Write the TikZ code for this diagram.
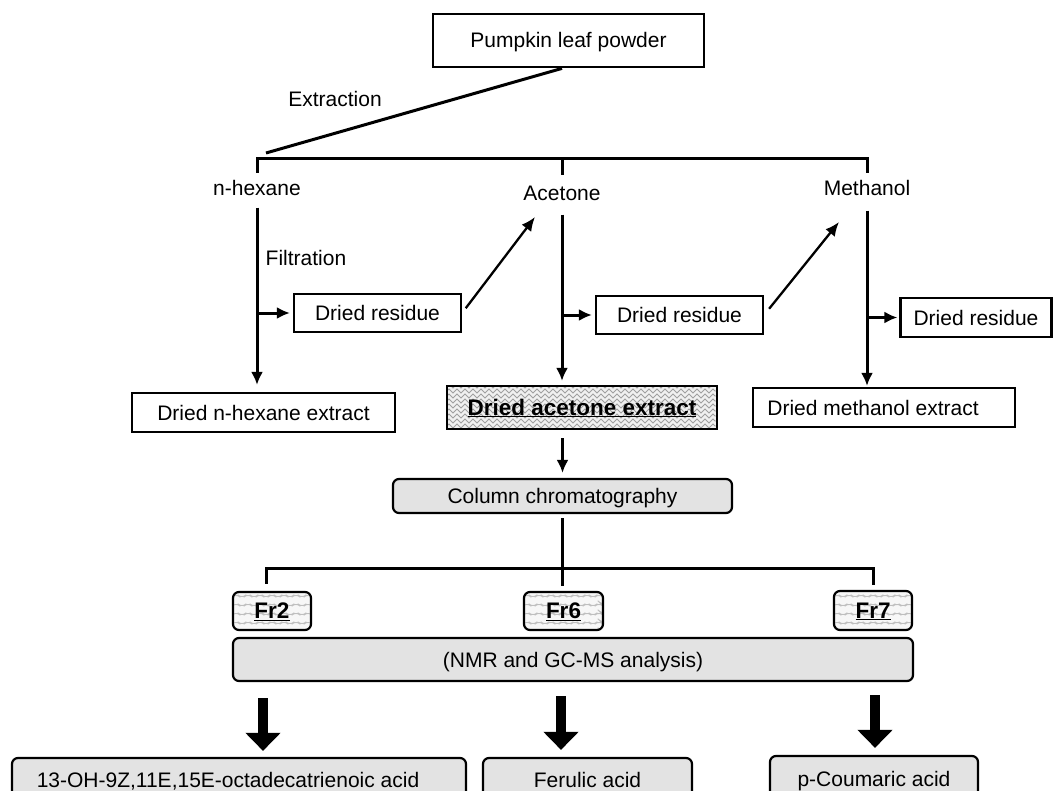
\documentclass[tikz,border=0pt]{standalone}
\usepackage{fontspec}
\setmainfont{Liberation Sans}
\usetikzlibrary{arrows.meta,decorations.pathmorphing}
\tikzset{
  wavy/.style={draw, line width=2.2pt, fill=gray!12, path picture={
    \foreach \k in {-2,3,...,50}
      \draw[gray!75, line width=0.8pt, decorate, decoration={zigzag, segment length=8pt, amplitude=2pt}]
        ([yshift=\k pt]path picture bounding box.south west) -- ([yshift=\k pt]path picture bounding box.south east);
  }},
  wavyb/.style={draw, line width=2.2pt, fill=gray!6, rounded corners=6pt, path picture={
    \foreach \k in {-2,7,...,50}
      \draw[gray!50, line width=0.9pt, decorate, decoration={zigzag, segment length=12pt, amplitude=3pt}]
        ([yshift=\k pt]path picture bounding box.south west) -- ([yshift=\k pt]path picture bounding box.south east);
  }},
}
\begin{document}
\begin{tikzpicture}[x=1pt,y=-1pt,
  every node/.style={font=\fontsize{21}{25}\selectfont, inner sep=0pt, text height=15pt, text depth=0pt},
  box/.style={draw, line width=2.2pt, minimum height=38pt},
  gbox/.style={draw, line width=2.2pt, rounded corners=6pt, fill=gray!22},
  ln/.style={line width=3pt},
  arr/.style={line width=3pt, -{Latex[length=13pt,width=12pt]}},
  thinarr/.style={line width=2.3pt, -{Latex[length=14pt,width=12pt]}},
  fat/.style={line width=10pt, -{Triangle[width=34pt,length=18pt]}}
]
\useasboundingbox (0,0) rectangle (1056,791);

% nodes
\node[box, line width=2.8pt, minimum width=271pt, minimum height=53pt] (pumpkin) at (568.5,40.5) {Pumpkin leaf powder};
\node (extr) at (335,99) {Extraction};
\node (hex) at (257,188) {n-hexane};
\node (ace) at (562,193) {Acetone};
\node (met) at (867,188) {Methanol};
\node (filt) at (306,258) {Filtration};
\node[box, minimum width=167pt] (res1) at (377.5,313) {Dried residue};
\node[box, minimum width=167pt] (res2) at (679.5,315) {Dried residue};
\node[box, minimum width=151pt, minimum height=39pt] (res3) at (976,317.5) {Dried residue};
\node[box, minimum width=263pt, minimum height=39pt] (hexext) at (263.5,412.5) {Dried n-hexane extract};
\node[wavy, minimum width=270pt, minimum height=43pt] (aceext) at (582,407.5) {\bfseries\fontsize{22.5}{26}\selectfont\underline{Dried acetone extract}};
\node[box, minimum width=262pt, minimum height=39pt] (metext) at (884,407.5) {\hspace*{-22pt}Dried methanol extract};
\node[gbox, minimum width=339pt, minimum height=34pt] (column) at (562.5,496) {Column chromatography};
\node[wavyb, minimum width=78pt, minimum height=38pt] (fr2) at (272,611) {\bfseries\fontsize{22.5}{26}\selectfont\underline{Fr2}};
\node[wavyb, minimum width=79pt, minimum height=38pt] (fr6) at (563.5,611) {\bfseries\fontsize{22.5}{26}\selectfont\underline{Fr6}};
\node[wavyb, minimum width=78pt, minimum height=39pt] (fr7) at (873,610.5) {\bfseries\fontsize{22.5}{26}\selectfont\underline{Fr7}};
\node[gbox, minimum width=680pt, minimum height=43pt] (nmr) at (573,659.5) {(NMR and GC-MS analysis)};
\node[gbox, minimum width=454pt, minimum height=44pt] (out1) at (239,780) {\hspace*{-22pt}13-OH-9Z,11E,15E-octadecatrienoic acid};
\node[gbox, minimum width=209pt, minimum height=44pt] (out2) at (587.5,780) {Ferulic acid};
\node[gbox, minimum width=208pt, minimum height=46pt] (out3) at (874,779) {p-Coumaric acid};

% helper coordinates
\coordinate (p1) at (266,153);
\coordinate (barL) at (257,159);
\coordinate (barR) at (867,159);
\coordinate (a1) at (535,217);
\coordinate (m1) at (839,222);
\coordinate (b2L) at (266,568);
\coordinate (b2R) at (873,568);
\coordinate (k1) at (263,0);
\coordinate (k2) at (561,0);
\coordinate (k3) at (875,0);

% top part
\draw[ln] (pumpkin.south -| ace) -- (p1);
\draw[ln] ([yshift=-14pt]barL) -- (barL) -- (barR) -- ([yshift=-14pt]barR);
\draw[ln] (barL -| ace) -- ([yshift=-16pt]barL -| ace);

% n-hexane column
\draw[arr, shorten >=7pt] ([yshift=-12pt]hex.south) -- (hex.south |- hexext.north);
\draw[arr, shorten >=3pt] (hex.south |- res1.west) -- (res1.west);
\draw[thinarr, shorten <=6pt] (res1.east) -- (a1);

% acetone column
\draw[arr, shorten >=4pt] ([yshift=-14pt]ace.south) -- (ace.south |- aceext.north);
\draw[arr, shorten >=3pt] (ace.south |- res2.west) -- (res2.west);
\draw[thinarr, shorten <=8pt] (res2.east) -- (m1);

% methanol column
\draw[arr, shorten >=1pt] ([yshift=-15pt]met.south) -- (met.south |- metext.north);
\draw[arr, shorten >=2pt] (met.south |- res3.west) -- (res3.west);

% chromatography
\draw[arr, shorten <=8pt, shorten >=5pt] (aceext.south -| column.north) -- (column.north);
\draw[ln, shorten <=4pt, shorten >=5pt] (column.south) -- (column.south |- fr6.north);
\draw[ln, shorten <=7pt, shorten >=5pt] (b2L |- fr2.north) -- (b2L) -- (b2R) -- (b2R |- fr7.north);

% results
\draw[fat, shorten <=16pt, shorten >=6pt] (nmr.south -| k1) -- (out1.north -| k1);
\draw[fat, shorten <=14pt, shorten >=7pt] (nmr.south -| k2) -- (out2.north -| k2);
\draw[fat, shorten <=13pt, shorten >=7pt] (nmr.south -| k3) -- (out3.north -| k3);
\end{tikzpicture}
\end{document}
